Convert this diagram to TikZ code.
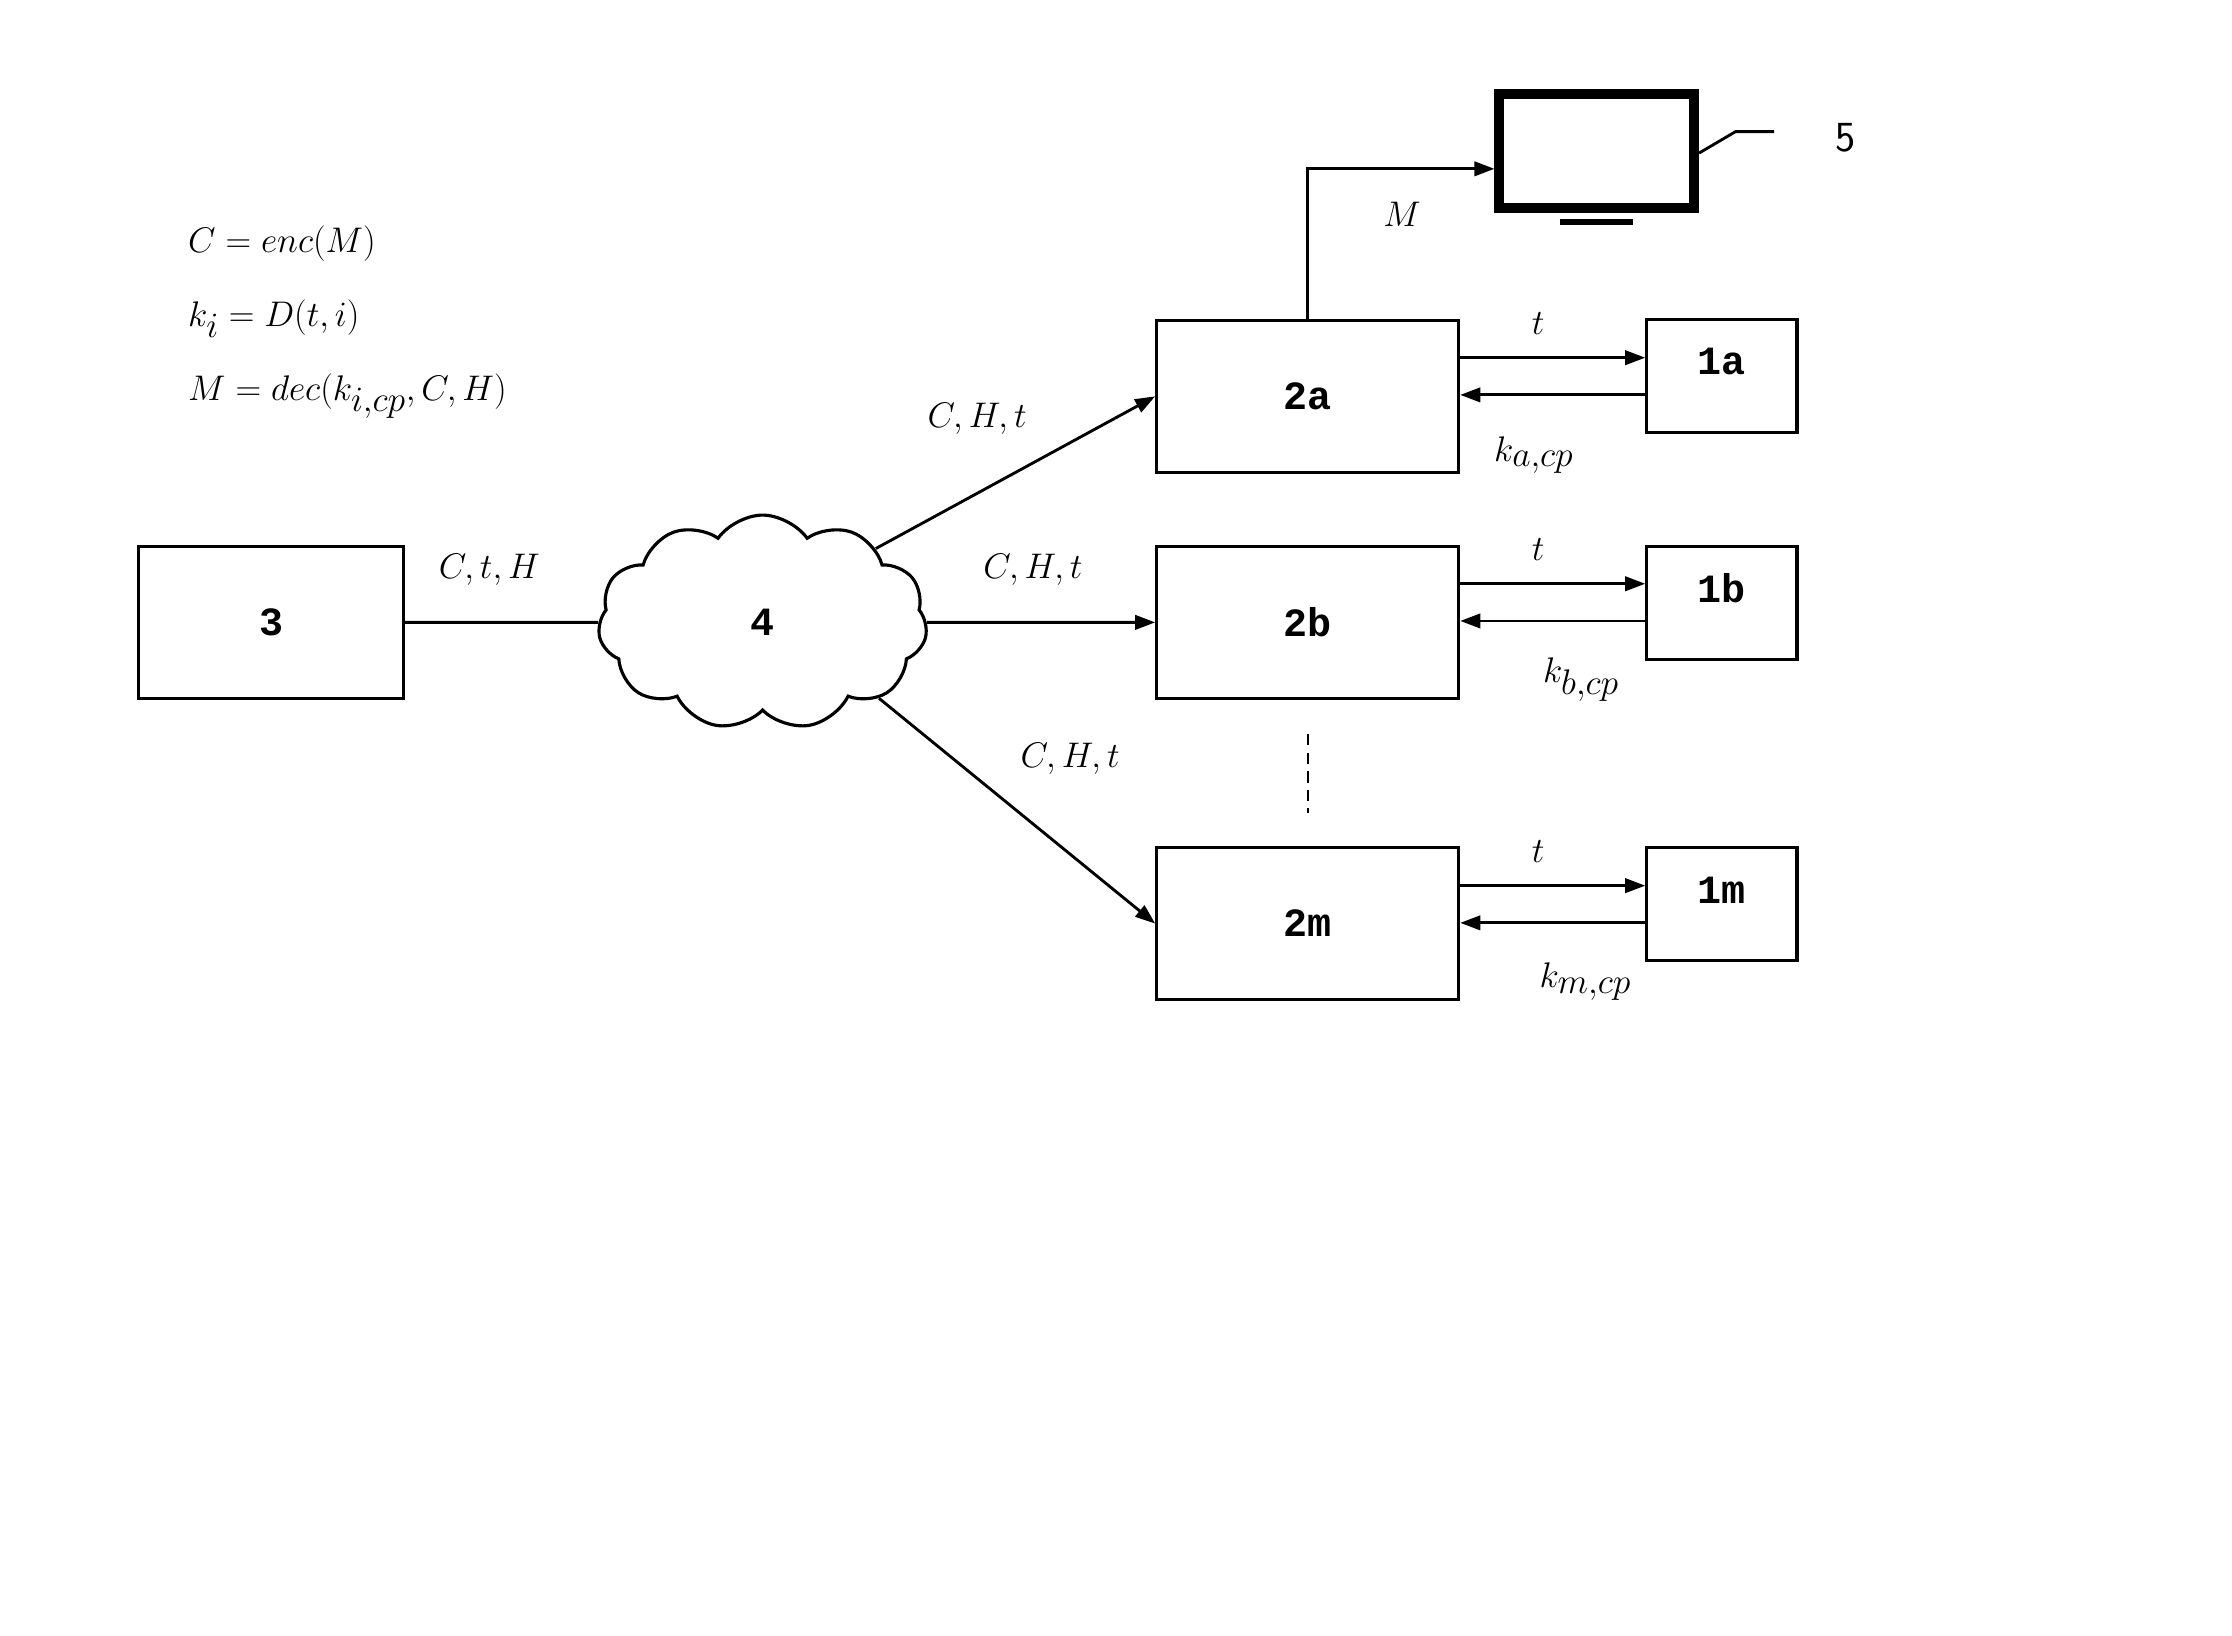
\documentclass[tikz,border=0pt]{standalone}
\usepackage{fontspec}
\setmonofont{Liberation Mono}
\usetikzlibrary{shapes.symbols,arrows.meta}
\begin{document}
\begin{tikzpicture}[x=1pt,y=-1pt,
  box/.style={draw,line width=2.2pt,minimum width=211pt,minimum height=106pt,font=\fontsize{28}{30}\selectfont\ttfamily\bfseries},
  sbox/.style={draw,line width=2.2pt,minimum width=105pt,minimum height=79pt,text depth=0pt,font=\fontsize{28}{30}\selectfont\ttfamily\bfseries},
  lab/.style={font=\fontsize{36}{40}\selectfont},
  ar/.style={line width=2pt,-{Triangle[length=14pt,width=10pt]}},
  ln/.style={line width=2pt}]
\useasboundingbox (0,0) rectangle (1560,1143);
\node[box,minimum width=185pt] (n3) at (189.5,435) {3};
\node[cloud,draw,line width=2.2pt,cloud puffs=11,cloud puff arc=110,aspect=1.5,minimum width=230pt,minimum height=150pt,font=\fontsize{28}{30}\selectfont\ttfamily\bfseries] (n4) at (533,435) {4};
\node[box] (a2) at (914,277) {2a};
\node[box] (b2) at (914,435) {2b};
\node[box] (m2) at (914,645.5) {2m};
\node[sbox] (a1) at (1203.5,263) {};
\node[sbox] (b1) at (1203.5,421.5) {};
\node[sbox] (m1) at (1203.5,632) {};
\node[font=\fontsize{28}{30}\selectfont\ttfamily\bfseries] (la1) at (1203.5,253) {1a};
\node[font=\fontsize{28}{30}\selectfont\ttfamily\bfseries] (lb1) at (1203.5,411) {1b};
\node[font=\fontsize{28}{30}\selectfont\ttfamily\bfseries] (lm1) at (1203.5,622) {1m};
% monitor
\node[draw,line width=7pt,minimum width=136pt,minimum height=80pt] (mon) at (1116,105.5) {};
\draw[line width=4pt] (1090,155) -- (1141,155);
\coordinate (k5) at (1213,92);
\coordinate (e5) at (1240,92);
\draw[ln] (mon.east |- 0,107) -- (k5) -- (e5);
\node[font=\fontsize{30}{32}\selectfont\sffamily] (n5) at (1290,96) {5};
% formulas
\node[lab,anchor=west] (f1) at (128,170) {$C=enc(M)$};
\node[lab,anchor=west] (f2) at (128,223) {$k_i=D(t,i)$};
\node[lab,anchor=west] (f3) at (128,277) {$M=dec(k_{i,cp},C,H)$};
% connectors
\draw[ln] (n3.east) -- (n4.west);
\node[lab] (l1) at (342,398) {$C,t,H$};
\draw[ar] (n4.north east) -- (a2.west);
\node[lab] (l2) at (683,293) {$C,H,t$};
\draw[ar] (n4.east) -- (b2.west);
\node[lab] (l3) at (722,398) {$C,H,t$};
\draw[ar] (n4.south east) -- (m2.west);
\node[lab] (l4) at (748,530) {$C,H,t$};
\coordinate (ta) at (914,118);
\draw[ar] (a2.north) -- (ta) -- (mon.west |- ta);
\node[lab] (lM) at (980,150) {$M$};
\coordinate (d1) at (914,513); \coordinate (d2) at (914,568);
\draw[line width=1.4pt,dash pattern=on 8pt off 5pt] (d1) -- (d2);
\foreach \b/\s/\y/\kx/\ky in {a/a/250/1072/318,b/b/408/1105/475,m/m/619/1108/686}{
  \draw[ar] (\b2.east |- 0,\y) -- (\b1.west |- 0,\y);
  \draw[ar] (\b1.west |- 0,\y+26) -- (\b2.east |- 0,\y+26);
  \node[lab] at (1075,\y-24) {$t$};
  \node[lab] at (\kx,\ky) {$k_{\s,cp}$};
}
\end{tikzpicture}
\end{document}
